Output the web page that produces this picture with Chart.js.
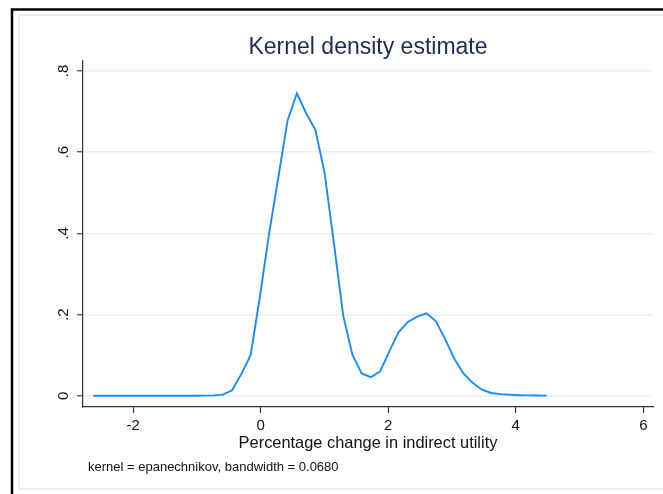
<!DOCTYPE html>
<html>
<head>
<meta charset="utf-8">
<script src="https://cdn.jsdelivr.net/npm/chart.js@4.4.0/dist/chart.umd.min.js"></script>
<style>
html,body{margin:0;padding:0;background:#fff;}
#wrap{width:663px;height:494px;position:relative;}
canvas{display:block;}
</style>
</head>
<body>
<div id="wrap"><canvas id="c" width="663" height="494"></canvas></div>
<script>
// ---- data ----
const xValues = [-2.625, -2.480, -2.335, -2.190, -2.045, -1.900, -1.754, -1.609, -1.464, -1.319,
                 -1.174, -1.029, -0.884, -0.739, -0.594, -0.449, -0.303, -0.158, -0.013, 0.132,
                  0.277,  0.422,  0.567,  0.712,  0.857,  1.003,  1.148,  1.293,  1.438, 1.583,
                  1.728,  1.873,  2.018,  2.163,  2.308,  2.454,  2.599,  2.744,  2.889, 3.034,
                  3.179,  3.324,  3.469,  3.614,  3.759,  3.905,  4.050,  4.195,  4.340, 4.485];
const densityValues = [0, 0, 0, 0, 0, 0, 0, 0, 0, 0,
                       0.0001, 0.0002, 0.0004, 0.001, 0.003, 0.0136, 0.054, 0.100, 0.244, 0.400,
                       0.539, 0.679, 0.745, 0.696, 0.655, 0.548, 0.376, 0.198, 0.101, 0.055,
                       0.046, 0.060, 0.110, 0.157, 0.182, 0.195, 0.203, 0.184, 0.141, 0.092,
                       0.055, 0.032, 0.015, 0.007, 0.004, 0.0025, 0.0015, 0.001, 0.0006, 0.0003];
const xTicks = [-2, 0, 2, 4, 6];
const xTickLabels = ['-2', '0', '2', '4', '6'];
const yTicks = [0, 0.2, 0.4, 0.6, 0.8];
const yTickLabels = ['0', '.2', '.4', '.6', '.8'];
const chartTitle = 'Kernel density estimate';
const xAxisTitle = 'Percentage change in indirect utility';
const noteText = 'kernel = epanechnikov, bandwidth = 0.0680';

const FONT = '"Liberation Sans", Arial, Helvetica, sans-serif';

const framePlugin = {
  id: 'frame',
  beforeDraw(chart) {
    const ctx = chart.ctx;
    ctx.save();
    ctx.fillStyle = '#ffffff';
    ctx.fillRect(0, 0, chart.width, chart.height);
    // inner light frame
    ctx.strokeStyle = '#e4ebee';
    ctx.lineWidth = 1.5;
    ctx.strokeRect(19, 15, 700, 474);
    // outer black frame (top & left visible)
    ctx.strokeStyle = '#000000';
    ctx.lineWidth = 2.5;
    ctx.beginPath();
    ctx.moveTo(12, 520);
    ctx.lineTo(12, 9.5);
    ctx.lineTo(700, 9.5);
    ctx.stroke();
    ctx.restore();
  },
  afterDraw(chart) {
    const ctx = chart.ctx;
    const ca = chart.chartArea;
    const cx = (ca.left + ca.right) / 2;
    ctx.save();
    ctx.textBaseline = 'alphabetic';
    ctx.textAlign = 'center';
    ctx.fillStyle = '#1c2d52';
    ctx.font = '23px ' + FONT;
    ctx.fillText(chartTitle, cx, 54);
    ctx.fillStyle = '#111111';
    ctx.font = '16.4px ' + FONT;
    ctx.fillText(xAxisTitle, cx, 448);
    ctx.textAlign = 'left';
    ctx.font = '13px ' + FONT;
    ctx.fillText(noteText, 88, 471);
    ctx.restore();
  }
};

const points = xValues.map((x, i) => ({x: x, y: densityValues[i]}));

new Chart(document.getElementById('c'), {
  type: 'line',
  data: {
    datasets: [{
      data: points,
      borderColor: '#1a8bff',
      borderWidth: 1.9,
      pointRadius: 0,
      tension: 0,
      fill: false
    }]
  },
  options: {
    responsive: false,
    animation: false,
    devicePixelRatio: 1,
    layout: {padding: {left: 0, right: 10, top: 61, bottom: 0}},
    plugins: {legend: {display: false}, title: {display: false}, tooltip: {enabled: false}},
    scales: {
      x: {
        type: 'linear',
        min: -2.787,
        max: 6.152,
        afterBuildTicks(scale) { scale.ticks = xTicks.map(v => ({value: v})); },
        afterFit(scale) { scale.height = 87; },
        ticks: {
          autoSkip: false,
          maxRotation: 0,
          minRotation: 0,
          padding: 4,
          color: '#111111',
          font: {family: FONT, size: 15},
          callback: (v, i) => xTickLabels[i]
        },
        grid: {drawOnChartArea: false, drawTicks: true, tickLength: 6, color: '#333333', tickColor: '#333333', tickWidth: 1.2},
        border: {display: true, color: '#333333', width: 1.2}
      },
      y: {
        type: 'linear',
        min: -0.0276,
        max: 0.8247,
        afterBuildTicks(scale) { scale.ticks = yTicks.map(v => ({value: v})); },
        afterFit(scale) { scale.width = 83; },
        ticks: {
          autoSkip: false,
          minRotation: 90,
          maxRotation: 90,
          crossAlign: 'center',
          padding: 7,
          color: '#111111',
          font: {family: FONT, size: 15},
          callback: (v, i) => yTickLabels[i]
        },
        grid: {drawOnChartArea: true, drawTicks: true, tickLength: 6, color: '#e6eef1', lineWidth: 1.5, tickColor: '#444444', tickWidth: 1.2},
        border: {display: true, color: '#333333', width: 1.2}
      }
    }
  },
  plugins: [framePlugin]
});
</script>
</body>
</html>
